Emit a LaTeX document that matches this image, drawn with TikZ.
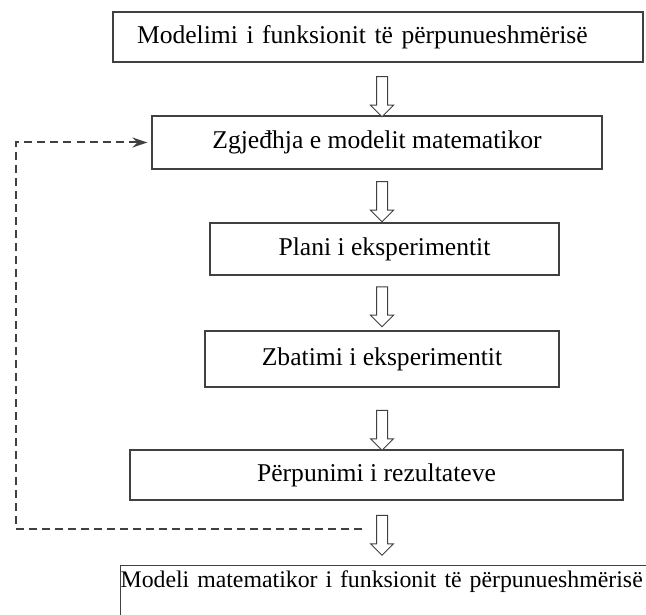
\documentclass[tikz,border=0pt]{standalone}
\usepackage{fontspec}
\setmainfont{Liberation Serif}
\usetikzlibrary{shapes.arrows,arrows.meta}

\tikzset{
  stage/.style={draw=black!75, line width=1.2pt, inner sep=0pt, minimum height=50pt,
    font=\fontsize{25.6pt}{30pt}\selectfont},
  downarrow/.style={single arrow, draw=black!75, line width=1pt, fill=white, rotate=-90,
    inner xsep=0pt, inner ysep=5pt, minimum height=40pt, minimum width=22pt, single arrow head extend=6pt},
  feedback/.style={draw=black!75, line width=2pt, dash pattern=on 8pt off 5pt,
    -{Stealth[length=15pt,width=10pt]}, shorten >=4pt}
}

\begin{document}
\begin{tikzpicture}[x=1pt,y=1pt]
    \useasboundingbox (0,0) rectangle (646,-615);
    \node[stage, minimum width=530pt, inner xsep=24pt, text width=482pt, align=left] (modelimi) at (378,-37)
      {Modelimi i funksionit të përpunueshmërisë};
    \node[stage, minimum width=450pt, minimum height=53pt] (zgjedhja) at (377,-142.5)
      {Zgjeđhja e modelit matematikor};
    \node[stage, minimum width=349pt, minimum height=52pt] (plani) at (384.5,-249)
      {Plani i eksperimentit};
    \node[stage, minimum width=354pt, minimum height=56pt] (zbatimi) at (382,-359)
      {Zbatimi i eksperimentit};
    \node[stage, minimum width=493pt] (perpunimi) at (376.5,-475)
      {Përpunimi i rezultateve};
    \node[stage, anchor=north west, minimum width=600pt, text width=600pt, align=left,
      text height=22pt, text depth=50pt, font=\fontsize{23.8pt}{28pt}\selectfont] (modeli) at (120,-565)
      {Modeli matematikor i funksionit të përpunueshmërisë};

    \node[downarrow] (a1) at (382,-94) {};
    \node[downarrow] (a2) at (382,-199) {};
    \node[downarrow] (a3) at (382,-304) {};
    \node[downarrow] (a4) at (382,-427.5) {};
    \node[downarrow] (a5) at (382,-532.5) {};

    \coordinate (fb) at (362,-529);
    \coordinate (corner) at (16,-529);
    \draw[feedback] (fb) -- (corner) |- (zgjedhja.west);
\end{tikzpicture}
\end{document}
